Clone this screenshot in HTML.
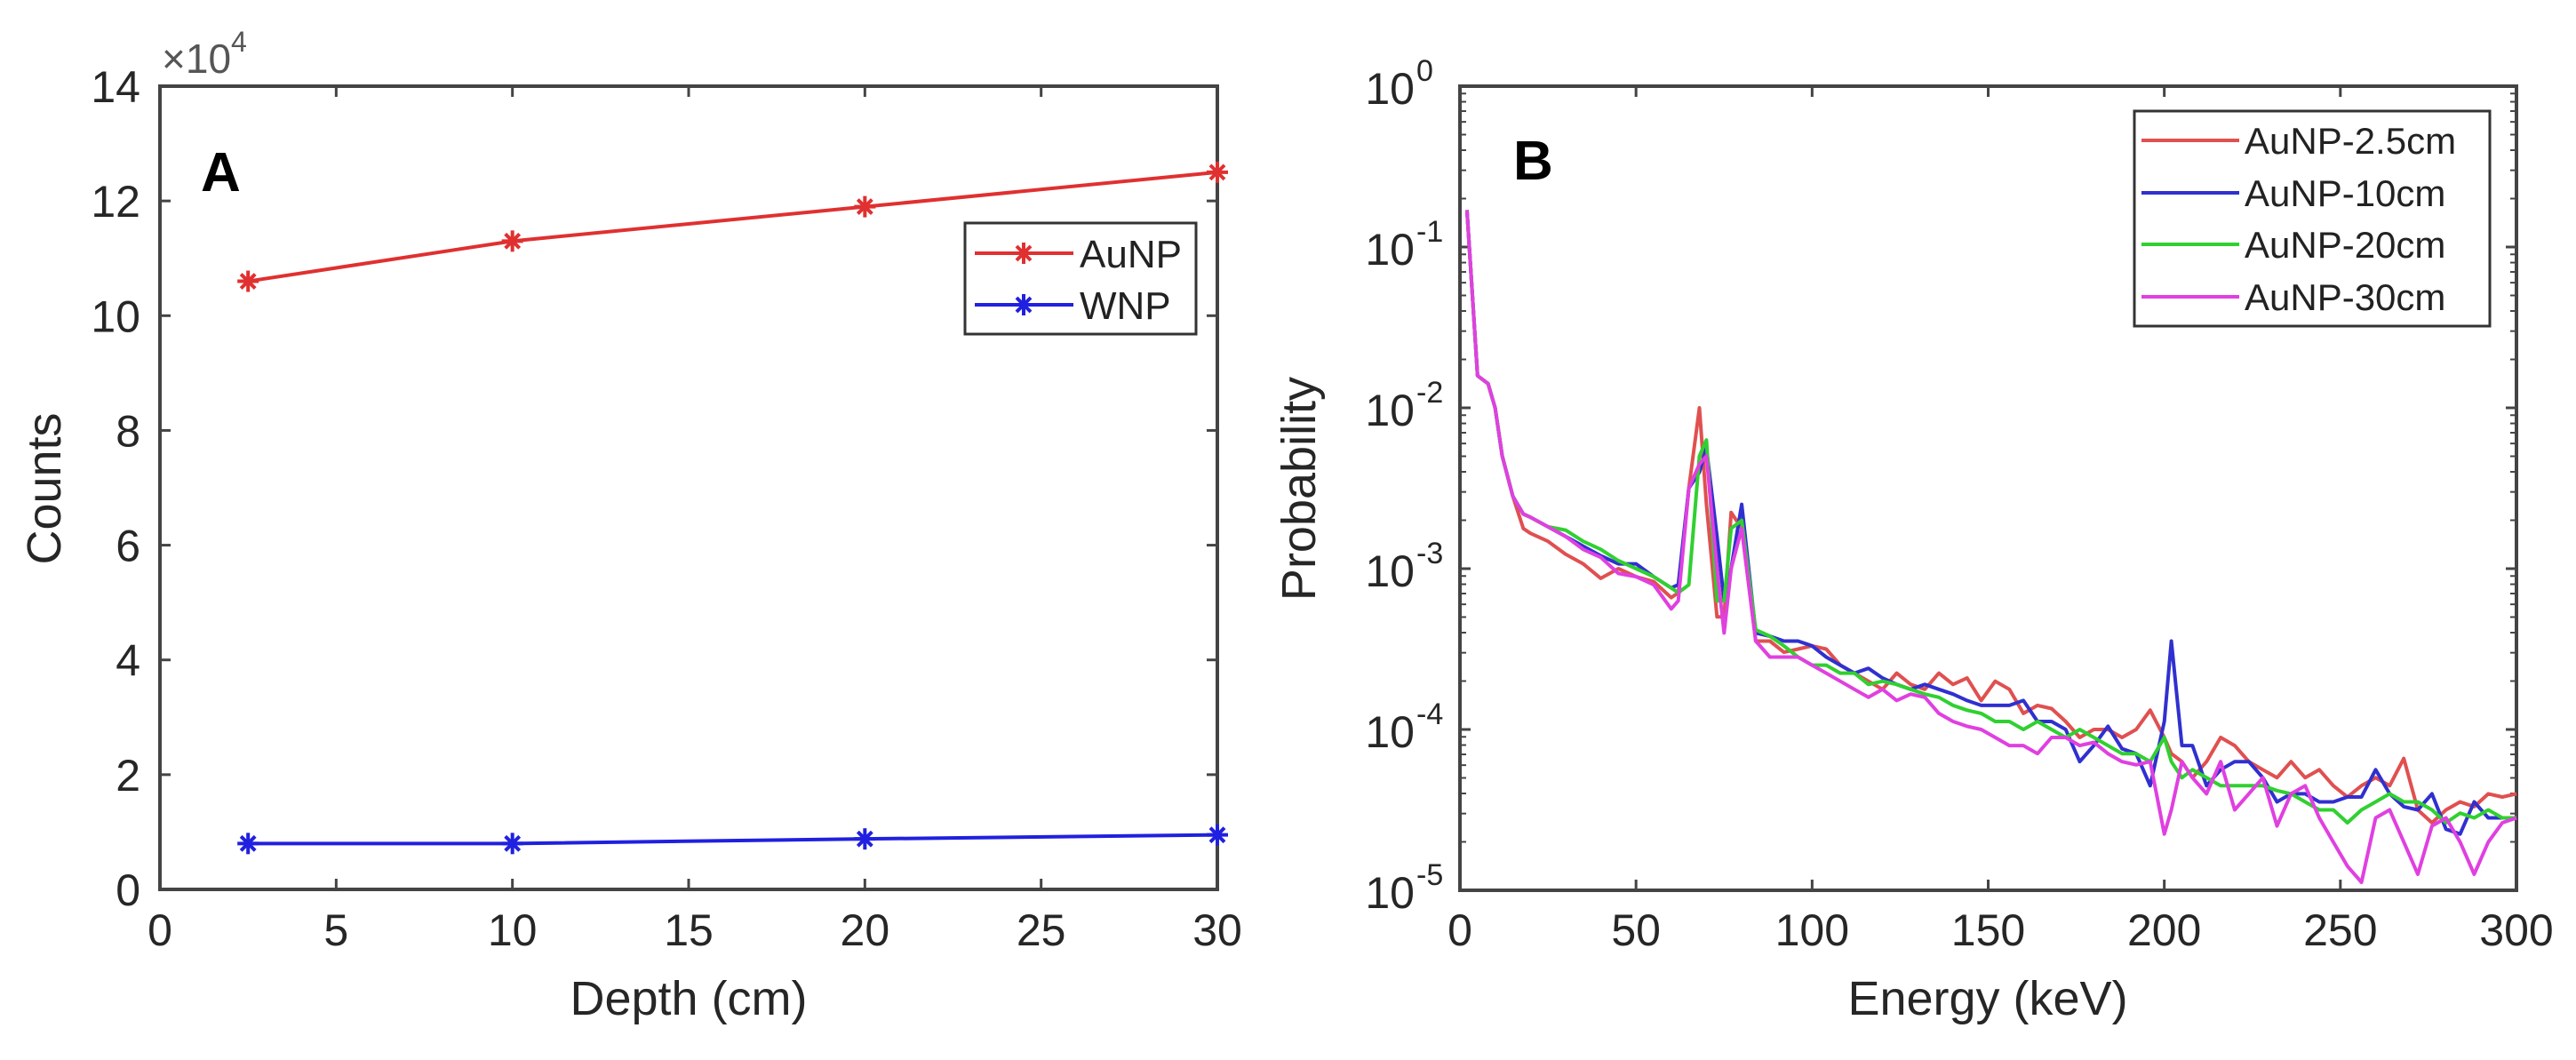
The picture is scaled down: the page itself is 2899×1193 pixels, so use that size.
<!DOCTYPE html>
<html><head><meta charset="utf-8"><style>
html,body{margin:0;padding:0;background:#fff;}
svg{display:block;font-family:"Liberation Sans",sans-serif;}
</style></head><body>
<svg id="fig" width="2899" height="1193" viewBox="0 0 2899 1193" xmlns="http://www.w3.org/2000/svg">
<rect width="2899" height="1193" fill="#fff"/>
<g id="pa"></g>
<g id="pb"></g>
</svg>
<script>
// Panel A data
const depths = [2.5, 10, 20, 30];
const aunpCounts = [10.6, 11.3, 11.9, 12.5];
const wnpCounts = [0.8, 0.8, 0.88, 0.95];
const aXTicks = [0,5,10,15,20,25,30];
const aYTicks = [0,2,4,6,8,10,12,14];
// Panel B data (log10 probability)
const energies = [2,5,8,10,12,15,18,20,25,30,35,40,45,50,55,60,62,65,68,70,73,75,77,80,84,88,92,96,100,104,108,112,116,120,124,128,132,136,140,144,148,152,156,160,164,168,172,176,180,184,188,192,196,200,202,205,208,212,216,220,224,228,232,236,240,244,248,252,256,260,264,268,272,276,280,284,288,292,296,300];
const logRed = [-0.77,-1.8,-1.85,-2.0,-2.3,-2.55,-2.75,-2.78,-2.83,-2.91,-2.97,-3.06,-3.0,-3.05,-3.08,-3.18,-3.15,-2.5,-2.0,-2.6,-3.3,-3.3,-2.65,-2.75,-3.45,-3.45,-3.52,-3.5,-3.48,-3.5,-3.6,-3.65,-3.7,-3.75,-3.65,-3.72,-3.75,-3.65,-3.72,-3.68,-3.82,-3.7,-3.75,-3.9,-3.85,-3.87,-3.95,-4.05,-4.0,-4.0,-4.05,-4.0,-3.88,-4.05,-4.15,-4.2,-4.3,-4.2,-4.05,-4.1,-4.2,-4.25,-4.3,-4.2,-4.3,-4.25,-4.35,-4.42,-4.35,-4.3,-4.35,-4.18,-4.5,-4.58,-4.5,-4.45,-4.48,-4.4,-4.42,-4.4];
const logBlue = [-0.77,-1.8,-1.85,-2.0,-2.3,-2.55,-2.66,-2.68,-2.74,-2.8,-2.86,-2.92,-2.97,-2.97,-3.05,-3.12,-3.1,-2.5,-2.4,-2.25,-2.8,-3.2,-3.0,-2.6,-3.4,-3.42,-3.45,-3.45,-3.48,-3.55,-3.6,-3.65,-3.62,-3.68,-3.72,-3.75,-3.72,-3.75,-3.78,-3.82,-3.85,-3.85,-3.85,-3.82,-3.95,-3.95,-4.0,-4.2,-4.1,-3.98,-4.12,-4.15,-4.35,-3.95,-3.45,-4.1,-4.1,-4.35,-4.25,-4.2,-4.2,-4.3,-4.45,-4.4,-4.4,-4.45,-4.45,-4.42,-4.42,-4.25,-4.4,-4.48,-4.5,-4.4,-4.62,-4.65,-4.45,-4.55,-4.55,-4.55];
const logGreen = [-0.77,-1.8,-1.85,-2.0,-2.3,-2.55,-2.66,-2.68,-2.74,-2.76,-2.83,-2.88,-2.95,-3.0,-3.05,-3.12,-3.15,-3.1,-2.3,-2.2,-3.2,-3.2,-2.75,-2.7,-3.38,-3.42,-3.48,-3.55,-3.6,-3.6,-3.65,-3.65,-3.72,-3.7,-3.72,-3.75,-3.78,-3.8,-3.85,-3.88,-3.9,-3.95,-3.95,-4.0,-3.95,-4.0,-4.05,-4.0,-4.05,-4.1,-4.15,-4.15,-4.2,-4.05,-4.2,-4.3,-4.25,-4.3,-4.35,-4.35,-4.35,-4.35,-4.38,-4.4,-4.45,-4.5,-4.5,-4.58,-4.5,-4.45,-4.4,-4.45,-4.45,-4.5,-4.58,-4.52,-4.55,-4.5,-4.55,-4.55];
const logMag = [-0.77,-1.8,-1.85,-2.0,-2.3,-2.55,-2.66,-2.68,-2.74,-2.8,-2.88,-2.93,-3.03,-3.05,-3.1,-3.25,-3.2,-2.5,-2.35,-2.3,-3.0,-3.4,-3.0,-2.75,-3.45,-3.55,-3.55,-3.55,-3.6,-3.65,-3.7,-3.75,-3.8,-3.75,-3.82,-3.78,-3.8,-3.9,-3.95,-3.98,-4.0,-4.05,-4.1,-4.1,-4.15,-4.05,-4.05,-4.1,-4.08,-4.15,-4.2,-4.22,-4.2,-4.65,-4.5,-4.2,-4.3,-4.4,-4.2,-4.5,-4.4,-4.3,-4.6,-4.4,-4.35,-4.55,-4.7,-4.85,-4.95,-4.55,-4.5,-4.7,-4.9,-4.6,-4.55,-4.7,-4.9,-4.7,-4.58,-4.55];
const bXTicks = [0,50,100,150,200,250,300];
const bYDecades = [0,-1,-2,-3,-4,-5];
const bSeriesNames = ["AuNP-2.5cm","AuNP-10cm","AuNP-20cm","AuNP-30cm"];

const NS="http://www.w3.org/2000/svg";
function mk(parent, tag, attrs, text){
  const e=document.createElementNS(NS,tag);
  for(const k in attrs) e.setAttribute(k,attrs[k]);
  if(text!==undefined) e.textContent=text;
  parent.appendChild(e); return e;
}
const AX={x0:180,x1:1370,y0:97,y1:1001};
const BX={x0:1643,x1:2832,y0:97,y1:1002};
const ax=v=>AX.x0+(v-0)/30*(AX.x1-AX.x0);
const ay=v=>AX.y1-(v-0)/14*(AX.y1-AX.y0);
const bx=v=>BX.x0+v/300*(BX.x1-BX.x0);
const by=l=>BX.y0+(0-l)/5*(BX.y1-BX.y0);
const axisCol="#444", txtCol="#262626";

// ---------- Panel A ----------
const pa=document.getElementById('pa');
aXTicks.forEach(t=>{
  const x=ax(t);
  let e=mk(pa,'line',{x1:x,y1:AX.y1,x2:x,y2:AX.y1-12,stroke:axisCol,'stroke-width':3});
   
  e=mk(pa,'line',{x1:x,y1:AX.y0,x2:x,y2:AX.y0+12,stroke:axisCol,'stroke-width':3});
   
  e=mk(pa,'text',{x:x,y:1064,'text-anchor':'middle','font-size':50,fill:txtCol},String(t));
   
});
aYTicks.forEach(t=>{
  const y=ay(t);
  let e=mk(pa,'line',{x1:AX.x0,y1:y,x2:AX.x0+12,y2:y,stroke:axisCol,'stroke-width':3});
   
  e=mk(pa,'line',{x1:AX.x1,y1:y,x2:AX.x1-12,y2:y,stroke:axisCol,'stroke-width':3});
   
  e=mk(pa,'text',{x:158,y:y+18,'text-anchor':'end','font-size':50,fill:txtCol},String(t));
   
});
let r=mk(pa,'rect',{x:AX.x0,y:AX.y0,width:AX.x1-AX.x0,height:AX.y1-AX.y0,fill:'none',stroke:axisCol,'stroke-width':4});
 
function starMarker(parent,x,y,col){
  const g=mk(parent,'g',{stroke:col,'stroke-width':4});
  mk(g,'line',{x1:x-12,y1:y,x2:x+12,y2:y});
  mk(g,'line',{x1:x,y1:y-12,x2:x,y2:y+12});
  mk(g,'line',{x1:x-8,y1:y-8,x2:x+8,y2:y+8});
  mk(g,'line',{x1:x-8,y1:y+8,x2:x+8,y2:y-8});
  return g;
}
[[aunpCounts,'#e03030','aunp'],[wnpCounts,'#2020e0','wnp']].forEach(([vals,col,nm])=>{
  const pts=depths.map((d,i)=>ax(d)+','+ay(vals[i])).join(' ');
  const pl=mk(pa,'polyline',{points:pts,fill:'none',stroke:col,'stroke-width':4});
   
  depths.forEach((d,i)=>{
    const m=starMarker(pa,ax(d),ay(vals[i]),col);
     
  });
});
</script>
<script>
(function(){
const pa=document.getElementById('pa');
let e;
e=mk(pa,'text',{x:182,y:82,'font-size':46,fill:'#555'},'×10');
 
const sup=mk(e,'tspan',{dy:-24,'font-size':32},'4');
 
e=mk(pa,'text',{x:226,y:215,'font-size':62,'font-weight':'bold',fill:'#000'},'A');
 
e=mk(pa,'text',{x:775,y:1142,'text-anchor':'middle','font-size':54,fill:txtCol},'Depth (cm)');
 
e=mk(pa,'text',{x:0,y:0,'text-anchor':'middle','font-size':54,fill:txtCol,transform:'translate(68,550) rotate(-90)'},'Counts');
 
const lg=mk(pa,'g',{});
 
mk(lg,'rect',{x:1086,y:251,width:260,height:125,fill:'#fff',stroke:'#333','stroke-width':3});
[['AuNP','#e03030',285],['WNP','#2020e0',343]].forEach(([t,c,y])=>{
  const g=mk(lg,'g',{});
   
  mk(g,'line',{x1:1097,y1:y,x2:1208,y2:y,stroke:c,'stroke-width':4});
  starMarker(g,1152,y,c);
  mk(g,'text',{x:1215,y:y+16,'font-size':44,fill:'#222'},t);
});

// ---------- Panel B ----------
const pb=document.getElementById('pb');
bXTicks.forEach(t=>{
  const x=bx(t);
  e=mk(pb,'line',{x1:x,y1:BX.y1,x2:x,y2:BX.y1-12,stroke:axisCol,'stroke-width':3});
   
  e=mk(pb,'line',{x1:x,y1:BX.y0,x2:x,y2:BX.y0+12,stroke:axisCol,'stroke-width':3});
   
  e=mk(pb,'text',{x:x,y:1064,'text-anchor':'middle','font-size':50,fill:txtCol},String(t));
   
});
bYDecades.forEach(d=>{
  const y=by(d);
  e=mk(pb,'line',{x1:BX.x0,y1:y,x2:BX.x0+12,y2:y,stroke:axisCol,'stroke-width':3});
   
  e=mk(pb,'line',{x1:BX.x1,y1:y,x2:BX.x1-12,y2:y,stroke:axisCol,'stroke-width':3});
   
  if(d>-5){
    for(let k=2;k<=9;k++){
      const yy=by(d-1+Math.log10(k));
      mk(pb,'line',{x1:BX.x0,y1:yy,x2:BX.x0+7,y2:yy,stroke:axisCol,'stroke-width':2});
      mk(pb,'line',{x1:BX.x1,y1:yy,x2:BX.x1-7,y2:yy,stroke:axisCol,'stroke-width':2});
    }
  }
  const t=mk(pb,'text',{x:1592,y:y+20,'text-anchor':'end','font-size':50,fill:txtCol},'10');
   
  const s=mk(pb,'text',{x:1594,y:y-6,'text-anchor':'start','font-size':34,fill:txtCol},String(d));
   
});
r=mk(pb,'rect',{x:BX.x0,y:BX.y0,width:BX.x1-BX.x0,height:BX.y1-BX.y0,fill:'none',stroke:axisCol,'stroke-width':4});
 
const cols=['#e05050','#3030d0','#30d030','#e040e0'];
[logRed,logBlue,logGreen,logMag].forEach((arr,si)=>{
  const pts=energies.map((E,i)=>bx(E).toFixed(1)+','+by(arr[i]).toFixed(1)).join(' ');
  const pl=mk(pb,'polyline',{points:pts,fill:'none',stroke:cols[si],'stroke-width':4,'stroke-linejoin':'round'});
  
  
});
e=mk(pb,'text',{x:1703,y:202,'font-size':62,'font-weight':'bold',fill:'#000'},'B');
 
e=mk(pb,'text',{x:2237,y:1142,'text-anchor':'middle','font-size':54,fill:txtCol},'Energy (keV)');
 
e=mk(pb,'text',{x:0,y:0,'text-anchor':'middle','font-size':54,fill:txtCol,transform:'translate(1480,550) rotate(-90)'},'Probability');
 
const lb=mk(pb,'g',{});
 
mk(lb,'rect',{x:2402,y:125,width:400,height:242,fill:'#fff',stroke:'#333','stroke-width':3});
[158,217,275,334].forEach((y,i)=>{
  const g=mk(lb,'g',{});
   
  mk(g,'line',{x1:2410,y1:y,x2:2520,y2:y,stroke:cols[i],'stroke-width':4});
  mk(g,'text',{x:2526,y:y+15,'font-size':42,fill:'#222'},bSeriesNames[i]);
});
})();
</script>
</body></html>
